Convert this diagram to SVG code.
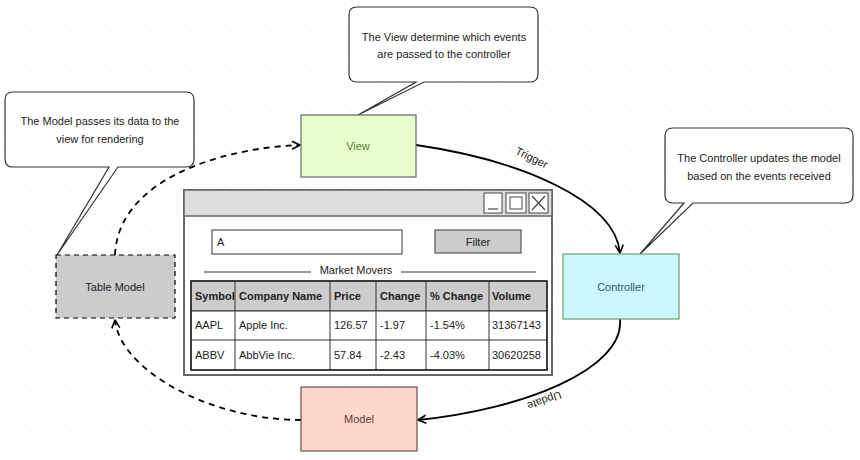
<svg xmlns="http://www.w3.org/2000/svg" width="860" height="460" viewBox="0 0 860 460">
<defs>
<pattern id="dots" width="10" height="10" patternUnits="userSpaceOnUse">
<rect x="4" y="4" width="1" height="1" fill="#e2e2e2"/>
</pattern>
<marker id="open" viewBox="0 0 10 10" refX="9" refY="5" markerWidth="10" markerHeight="10" markerUnits="userSpaceOnUse" orient="auto">
<path d="M1,1 L9,5 L1,9" fill="none" stroke="#000" stroke-width="1.6" stroke-linejoin="round"/>
</marker>
</defs>
<style>
text{font-family:"Liberation Sans",Arial,sans-serif;font-size:11px;fill:#222}
.c{text-anchor:middle}
.callout{fill:#fff;stroke:#333;stroke-width:1.2}
.edge{fill:none;stroke:#000;stroke-width:1.8}
.dash{stroke-dasharray:6 5}
.cell{fill:#fff;stroke:#333;stroke-width:1}
.hdr{fill:#ccc;stroke:#333;stroke-width:1}
.b{font-weight:bold}
</style>
<rect width="860" height="460" fill="#fff"/>
<rect width="860" height="460" fill="url(#dots)"/>

<g id="connectors">
<path class="edge" d="M416,145 C520,160 615,200 620,253" marker-end="url(#open)"/>
<text class="c" transform="translate(530,161) rotate(26)">Trigger</text>
<path class="edge" d="M620,319 C625,370 520,410 418,420" marker-end="url(#open)"/>
<text class="c" transform="translate(543,397) rotate(160)">Update</text>
<path class="edge dash" d="M301,420 C210,420 120,370 115,320" marker-end="url(#open)"/>
<path class="edge dash" d="M115,255 C118,180 220,148 300,145" marker-end="url(#open)"/>
</g>

<g id="callout-view">
<path class="callout" d="M357,7 H530 Q538,7 538,15 V74 Q538,82 530,82 H424 L358,115 L416,82 H357 Q349,82 349,74 V15 Q349,7 357,7 Z"/>
<text class="c" x="444" y="41">The View determine which events</text>
<text class="c" x="444" y="58">are passed to the controller</text>
</g>
<g id="callout-model">
<path class="callout" d="M13,92 H186 Q194,92 194,100 V159 Q194,167 186,167 H118 L57,255 L109,167 H13 Q5,167 5,159 V100 Q5,92 13,92 Z"/>
<text class="c" x="100" y="125">The Model passes its data to the</text>
<text class="c" x="100" y="143">view for rendering</text>
</g>
<g id="callout-controller">
<path class="callout" d="M673,128 H845 Q853,128 853,136 V195 Q853,203 845,203 H693 L640,254 L684,203 H673 Q665,203 665,195 V136 Q665,128 673,128 Z"/>
<text class="c" x="759" y="162">The Controller updates the model</text>
<text class="c" x="759" y="180">based on the events received</text>
</g>

<g id="view">
<rect x="301" y="115" width="115" height="62" fill="#e6ffcc" stroke="#666" stroke-width="1.2"/>
<text class="c" x="358" y="150" style="fill:#5b7a3e">View</text>
</g>
<g id="controller">
<rect x="563" y="254" width="116" height="65" fill="#ccf7ff" stroke="#6d9e6d" stroke-width="1.2"/>
<text class="c" x="621" y="291" style="fill:#2d5a66">Controller</text>
</g>
<g id="model">
<rect x="301" y="387" width="116" height="64" fill="#ffd6cc" stroke="#6e4d4d" stroke-width="1.2"/>
<text class="c" x="359" y="423" style="fill:#5a3a3a">Model</text>
</g>
<g id="table-model">
<rect x="56" y="255" width="119" height="63" fill="#ccc" stroke="#000" stroke-width="1.2" stroke-dasharray="5 4"/>
<text class="c" x="115" y="291">Table Model</text>
</g>

<g id="window">
<rect x="184" y="190" width="368" height="185" fill="#fff" stroke="#666" stroke-width="2"/>
<rect x="184" y="190" width="368" height="26" fill="#ddd" stroke="#666" stroke-width="1.5"/>
<rect x="484" y="193" width="18" height="20" fill="#fff" stroke="#444"/>
<line x1="488" y1="209" x2="498" y2="209" stroke="#444" stroke-width="1.2"/>
<rect x="506" y="193" width="20" height="20" fill="#fff" stroke="#444"/>
<rect x="510" y="197" width="12" height="12" fill="none" stroke="#444"/>
<rect x="529" y="193" width="19" height="20" fill="#fff" stroke="#444"/>
<path d="M532,196 L545,210 M545,196 L532,210" stroke="#444" stroke-width="1.2"/>
<rect x="212" y="230" width="190" height="24" fill="#fff" stroke="#555" stroke-width="1.2"/>
<text x="217" y="246">A</text>
<rect x="435" y="230" width="86" height="23" fill="#ccc" stroke="#555" stroke-width="1.2"/>
<text class="c" x="478" y="246">Filter</text>
<line x1="204" y1="272" x2="311" y2="272" stroke="#333"/>
<line x1="401" y1="272" x2="536" y2="272" stroke="#333"/>
<text class="c" x="356" y="274">Market Movers</text>
<rect class="hdr" x="191" y="281" width="356" height="30"/>
<rect class="cell" x="191" y="311" width="356" height="59"/>
<line x1="191" y1="340" x2="547" y2="340" stroke="#333"/>
<g stroke="#333">
<line x1="235" y1="281" x2="235" y2="370"/>
<line x1="330" y1="281" x2="330" y2="370"/>
<line x1="376" y1="281" x2="376" y2="370"/>
<line x1="426" y1="281" x2="426" y2="370"/>
<line x1="489" y1="281" x2="489" y2="370"/>
</g>
<rect x="191" y="281" width="356" height="89" fill="none" stroke="#222" stroke-width="1.5"/>
<text class="b" x="195" y="300">Symbol</text>
<text class="b" x="239" y="300">Company Name</text>
<text class="b" x="334" y="300">Price</text>
<text class="b" x="380" y="300">Change</text>
<text class="b" x="430" y="300">% Change</text>
<text class="b" x="492" y="300">Volume</text>
<text x="195" y="329">AAPL</text>
<text x="239" y="329">Apple Inc.</text>
<text x="334" y="329">126.57</text>
<text x="380" y="329">-1.97</text>
<text x="430" y="329">-1.54%</text>
<text x="492" y="329">31367143</text>
<text x="195" y="359">ABBV</text>
<text x="239" y="359">AbbVie Inc.</text>
<text x="334" y="359">57.84</text>
<text x="380" y="359">-2.43</text>
<text x="430" y="359">-4.03%</text>
<text x="492" y="359">30620258</text>
</g>
</svg>
